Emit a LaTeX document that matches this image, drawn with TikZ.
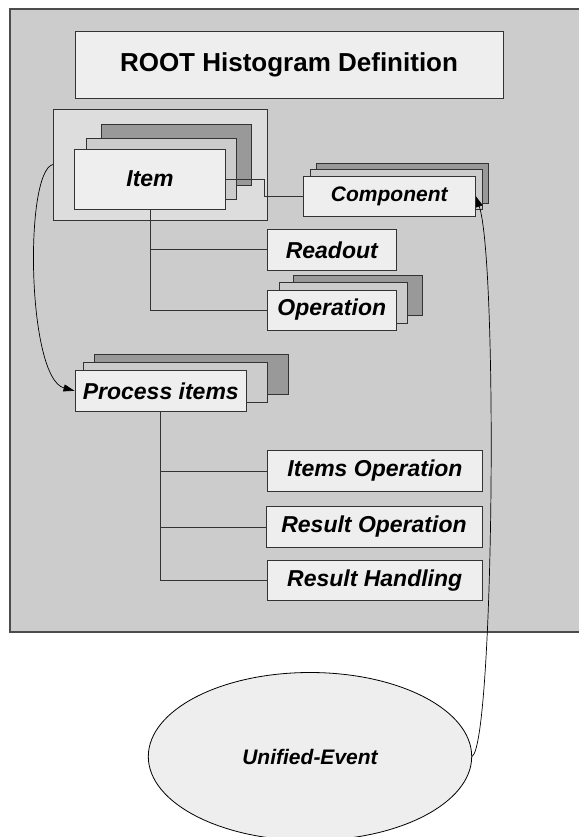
\documentclass[tikz,border=0pt]{standalone}
\usepackage{fontspec}
\setmainfont{Liberation Sans}
\usetikzlibrary{arrows.meta,shapes.geometric}
\definecolor{bggray}{HTML}{CCCCCC}
\definecolor{framegray}{HTML}{DDDDDD}
\definecolor{backgray}{HTML}{999999}
\definecolor{midgray}{HTML}{CCCCCC}
\definecolor{frontgray}{HTML}{EEEEEE}
\definecolor{edge}{HTML}{333333}
\tikzset{
  box/.style={rectangle, draw=edge, line width=0.9pt, inner sep=0pt, fill=frontgray,
    font=\fontsize{23}{26}\selectfont\bfseries\itshape},
  backbox/.style={box, fill=backgray},
  midbox/.style={box, fill=midgray},
  frontbox/.style={box, fill=frontgray},
  conn/.style={draw=edge, line width=0.9pt},
  curvearrow/.style={draw=black, line width=0.7pt, -{Triangle[length=11pt,width=7pt]}},
}
\begin{document}
\begin{tikzpicture}[x=1pt,y=-1pt]
\useasboundingbox (0,0) rectangle (578,837);
% outer background
\path[fill=bggray, draw=black!70, line width=1.1pt] (10,9) rectangle (600,632);

% title
\node[box, minimum width=428pt, minimum height=67pt, font=\fontsize{26}{30}\selectfont\bfseries] (title) at (289,65) {ROOT Histogram Definition};

% item group frame
\node[box, fill=framegray, minimum width=214pt, minimum height=111pt] (itemframe) at (160.3,164.5) {};
\node[backbox, minimum width=150pt, minimum height=61pt] (itemb) at (176,155) {};
\node[midbox, minimum width=150pt, minimum height=61pt] (itemm) at (161.2,168.8) {};
\node[frontbox, minimum width=150.6pt, minimum height=60pt] (itemf) at (150,179) {Item};

% component stack
\node[backbox, minimum width=172pt, minimum height=40pt] (compb) at (402.8,183.2) {};
\node[midbox, minimum width=172pt, minimum height=40pt] (compm) at (396.2,189.6) {};
\node[frontbox, minimum width=172pt, minimum height=40pt, font=\fontsize{21}{24}\selectfont\bfseries\itshape] (compf) at (389.3,196) {Component};

% readout
\node[frontbox, minimum width=129pt, minimum height=40.3pt] (readout) at (331.8,249.8) {Readout};

% operation stack
\node[backbox, minimum width=128.6pt, minimum height=40pt] (opb) at (358,295.7) {};
\node[midbox, minimum width=128pt, minimum height=40.3pt] (opm) at (343.3,302.8) {};
\node[frontbox, minimum width=129pt, minimum height=40pt] (opf) at (331.8,310) {Operation};

% process items stack
\node[backbox, minimum width=194pt, minimum height=40pt] (procb) at (191,374.3) {};
\node[midbox, minimum width=184.4pt, minimum height=40pt] (procm) at (175.5,382) {};
\node[frontbox, minimum width=171.7pt, minimum height=40.3pt] (procf) at (160.8,390.8) {Process items};

% process children
\node[frontbox, minimum width=215.4pt, minimum height=40.6pt] (itemsop) at (375,471) {Items Operation};
\node[frontbox, minimum width=216pt, minimum height=40.6pt] (resop) at (374,527) {Result Operation};
\node[frontbox, minimum width=214.7pt, minimum height=40.3pt] (reshand) at (374.7,580.2) {Result Handling};

% unified event
\node[ellipse, draw=black, line width=0.8pt, fill=frontgray, minimum width=323.4pt, minimum height=168pt, inner sep=0pt,
  font=\fontsize{21}{24}\selectfont\bfseries\itshape] (ue) at (310,756.5) {Unified-Event};

% tree connectors
\draw[conn] (itemf.east) -- ++(39,0) |- (compf.west);
\draw[conn] (itemf.south) |- (readout.west);
\draw[conn] (itemf.south) |- (opf.west);
\draw[conn] (procf.south) |- (itemsop.west);
\draw[conn] (procf.south) |- (resop.west);
\draw[conn] (procf.south) |- (reshand.west);

% curved arrows
\draw[curvearrow] (itemframe.west) .. controls (24,172) and (27,378) .. (procf.west);
\draw[curvearrow] (ue.east) .. controls (494,742) and (498,262) .. (compf.east);
\end{tikzpicture}
\end{document}
